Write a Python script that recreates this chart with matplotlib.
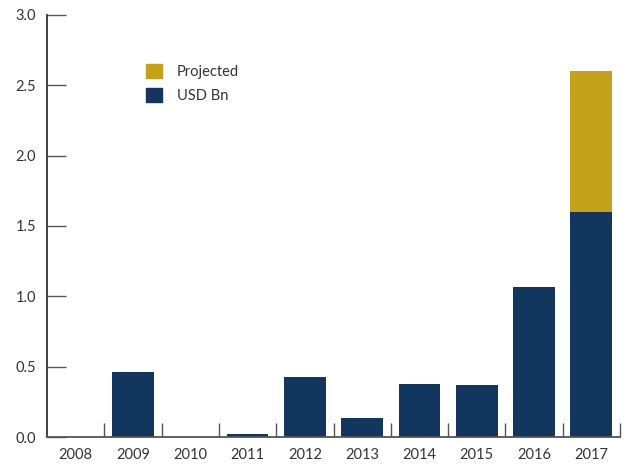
import numpy as np
import matplotlib.pyplot as plt
from matplotlib.patches import Patch

years = ["2008", "2009", "2010", "2011", "2012", "2013", "2014", "2015", "2016", "2017"]
usd_bn = [0.0, 0.46, 0.0, 0.02, 0.43, 0.135, 0.38, 0.37, 1.07, 1.60]
projected = [0, 0, 0, 0, 0, 0, 0, 0, 0, 1.0]

navy = "#13365f"
gold = "#c4a21b"
grey = "#555555"

plt.rcParams["font.family"] = ["Lato", "DejaVu Sans"]

fig = plt.figure(figsize=(6.25, 4.65), dpi=100)
ax = fig.add_axes([0.0752, 0.060, 0.9168, 0.908])

x = np.arange(len(years))
ax.bar(x, usd_bn, width=0.73, color=navy)
ax.bar(x, projected, width=0.73, bottom=usd_bn, color=gold)

ax.set_xlim(-0.5, len(years) - 0.5)
ax.set_ylim(0, 3.0)
ax.set_yticks(np.arange(0, 3.01, 0.5))
ax.set_yticklabels([f"{v:.1f}" for v in np.arange(0, 3.01, 0.5)])

# x: labels at centers, boundary ticks pointing up
ax.set_xticks(x)
ax.set_xticklabels(years)
ax.tick_params(axis="x", which="major", length=0, pad=8, labelsize=10.5, labelcolor="#333333")
ax.set_xticks(np.arange(0.5, len(years), 1), minor=True)
ax.tick_params(axis="x", which="minor", direction="in", length=10, width=1, color=grey)
ax.tick_params(axis="y", direction="in", length=14, width=1, color=grey, pad=8,
               labelsize=10.5, labelcolor="#333333")

for s in ["top", "right"]:
    ax.spines[s].set_visible(False)
ax.spines["left"].set_color("#333333")
ax.spines["left"].set_linewidth(1.3)
ax.spines["bottom"].set_color(grey)
ax.spines["bottom"].set_linewidth(1.3)

handles = [Patch(color=gold, label="Projected"), Patch(color=navy, label="USD Bn")]
ax.legend(handles=handles, loc="upper left", bbox_to_anchor=(0.15, 0.915), frameon=False,
          handlelength=1.1, handleheight=1.1, handletextpad=1.0, labelspacing=0.65,
          fontsize=10.5, labelcolor="#333333")

fig.savefig("out.png", dpi=100)
